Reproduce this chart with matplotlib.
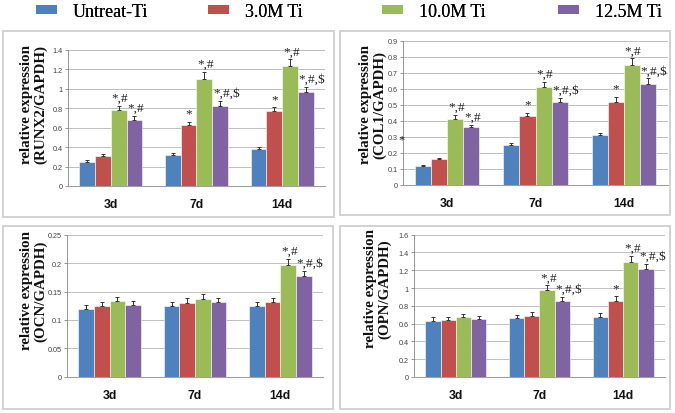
import matplotlib
matplotlib.use("Agg")
import matplotlib.pyplot as plt
import numpy as np
from matplotlib.patches import Patch, Rectangle

W, H = 675, 414

series = ["Untreat-Ti", "3.0M Ti", "10.0M Ti", "12.5M Ti"]
colors = ["#4F81BD", "#C0504D", "#9BBB59", "#8064A2"]
categories = ["3d", "7d", "14d"]

# values[series][category]
runx2 = [[0.25, 0.32, 0.38], [0.31, 0.63, 0.77], [0.78, 1.10, 1.23], [0.68, 0.82, 0.97]]
runx2_err = [[0.015, 0.015, 0.02], [0.02, 0.03, 0.04], [0.045, 0.07, 0.07], [0.04, 0.05, 0.05]]
runx2_marks = [["", "", ""], ["", "*", "*"], ["*,#", "*,#", "*,#"], ["*,#", "*,#,$", "*,#,$"]]

col1 = [[0.12, 0.25, 0.31], [0.16, 0.43, 0.52], [0.41, 0.61, 0.75], [0.36, 0.52, 0.63]]
col1_err = [[0.006, 0.012, 0.015], [0.01, 0.02, 0.03], [0.025, 0.035, 0.04], [0.015, 0.025, 0.035]]
col1_marks = [["", "", ""], ["", "*", "*"], ["*,#", "*,#", "*,#"], ["*,#", "*,#,$", "*,#,$"]]

ocn = [[0.120, 0.124, 0.125], [0.125, 0.130, 0.131], [0.133, 0.136, 0.197], [0.127, 0.131, 0.178]]
ocn_err = [[0.007, 0.007, 0.007], [0.007, 0.008, 0.008], [0.008, 0.009, 0.011], [0.007, 0.008, 0.008]]
ocn_marks = [["", "", ""], ["", "", ""], ["", "", "*,#"], ["", "", "*,#,$"]]

opn = [[0.63, 0.66, 0.68], [0.64, 0.69, 0.86], [0.67, 0.98, 1.29], [0.65, 0.85, 1.21]]
opn_err = [[0.04, 0.04, 0.04], [0.04, 0.04, 0.05], [0.04, 0.05, 0.07], [0.04, 0.05, 0.06]]
opn_marks = [["", "", ""], ["", "", "*"], ["", "*,#", "*,#"], ["", "*,#,$", "*,#,$"]]

panels = [
    dict(vals=runx2, err=runx2_err, marks=runx2_marks, gene="RUNX2", ymax=1.4, step=0.2,
         ticks=["0", "0.2", "0.4", "0.6", "0.8", "1", "1.2", "1.4"],
         ax=(68, 325, 187, 50.7), box=(3, 334, 32, 218), lab=(33.5, 104)),
    dict(vals=col1, err=col1_err, marks=col1_marks, gene="COL1", ymax=0.9, step=0.1,
         ticks=["0", "0.1", "0.2", "0.3", "0.4", "0.5", "0.6", "0.7", "0.8", "0.9"],
         ax=(403, 668, 186, 41.7), box=(340, 670, 32, 216), lab=(372.5, 105)),
    dict(vals=ocn, err=ocn_err, marks=ocn_marks, gene="OCN", ymax=0.25, step=0.05,
         ticks=["0", "0.05", "0.1", "0.15", "0.2", "0.25"],
         ax=(67, 323, 377.7, 235.7), box=(3, 333, 227, 410), lab=(33.5, 291)),
    dict(vals=opn, err=opn_err, marks=opn_marks, gene="OPN", ymax=1.6, step=0.2,
         ticks=["0", "0.2", "0.4", "0.6", "0.8", "1", "1.2", "1.4", "1.6"],
         ax=(414, 665, 378, 235.7), box=(340, 670, 227, 410), lab=(377.5, 289)),
]

fig = plt.figure(figsize=(W / 100, H / 100), dpi=100)
fig.patch.set_facecolor("white")

# panel frames
for p in panels:
    x0, x1, y0, y1 = p["box"]
    fig.patches.append(Rectangle((x0 / W, 1 - y1 / H), (x1 - x0) / W, (y1 - y0) / H,
                                 transform=fig.transFigure, fill=False,
                                 edgecolor="#CFCFCF", linewidth=1.3))

bw = 0.183
grid_c = "#BEBEBE"
for p in panels:
    l, r, b, t = p["ax"]
    ax = fig.add_axes([l / W, 1 - b / H, (r - l) / W, (b - t) / H])
    x = np.arange(len(categories))
    for i in range(len(series)):
        xs = x + (i - 1.5) * bw
        ax.bar(xs, p["vals"][i], width=bw, color=colors[i], edgecolor="white",
               linewidth=0.4, zorder=3)
        ax.errorbar(xs, p["vals"][i], yerr=[np.zeros(3), p["err"][i]], fmt="none",
                    ecolor="#333333", elinewidth=0.7, capsize=1.6, capthick=0.7, zorder=4)
        for j in range(len(categories)):
            m = p["marks"][i][j]
            if not m:
                continue
            top = p["vals"][i][j] + p["err"][i][j]
            txt = m.replace("$", r"\$")
            if m == "*":
                ax.annotate(txt, (xs[j], top), xytext=(0, 1.5), textcoords="offset points",
                            ha="center", va="bottom", fontsize=9.5,
                            family="Liberation Serif", color="#222222", zorder=5)
            else:
                ax.annotate(txt, (xs[j] - bw / 2, top), xytext=(0.5, 1.5),
                            textcoords="offset points", ha="left", va="bottom", fontsize=9.5,
                            family="Liberation Serif", color="#222222", zorder=5)
    ax.set_xlim(-0.5, len(categories) - 0.5)
    ax.set_ylim(0, p["ymax"])
    yt = np.arange(len(p["ticks"])) * p["step"]
    ax.set_yticks(yt)
    ax.set_yticklabels(p["ticks"], fontsize=5.2, family="Liberation Sans", color="#404040")
    ax.set_xticks(x)
    ax.set_xticklabels(categories, fontsize=8.8, fontweight="bold", family="Liberation Sans",
                       color="#111111")
    ax.tick_params(axis="x", length=0, pad=9)
    ax.tick_params(axis="y", length=2.5, width=0.6, color="#868686", pad=1.5)
    ax.yaxis.grid(True, color=grid_c, linewidth=0.7, zorder=0)
    ax.set_axisbelow(True)
    for s in ["top", "right"]:
        ax.spines[s].set_visible(False)
    ax.spines["left"].set_color("#868686")
    ax.spines["left"].set_linewidth(0.6)
    ax.spines["bottom"].set_color("#A0A0A0")
    ax.spines["bottom"].set_linewidth(0.8)
    ax.set_facecolor("none")
    fig.text(p["lab"][0] / W, 1 - p["lab"][1] / H,
             "relative expression\n(" + p["gene"] + "/GAPDH)",
             rotation=90, ha="center", va="center", multialignment="center",
             fontsize=10.8, fontweight="bold", family="Liberation Serif",
             linespacing=1.05, color="#111111")

# stray asterisk on COL1 panel
fig.text(401.5 / W, 1 - 140 / H, "*", ha="center", va="center", fontsize=9,
         family="Liberation Serif", color="#222222")

# legend
leg_x = [36, 208, 382, 558]
for i in range(len(series)):
    h = Patch(facecolor=colors[i], edgecolor="none")
    lg = fig.legend([h], [series[i]], loc="center left",
                    bbox_to_anchor=(leg_x[i] / W, 1 - 12.5 / H), frameon=False,
                    borderpad=0, borderaxespad=0, handlelength=1.17, handleheight=0.45,
                    handletextpad=0.88,
                    prop=dict(family="Liberation Serif", size=13))
    fig.add_artist(lg)

fig.savefig("out.png", dpi=100)
